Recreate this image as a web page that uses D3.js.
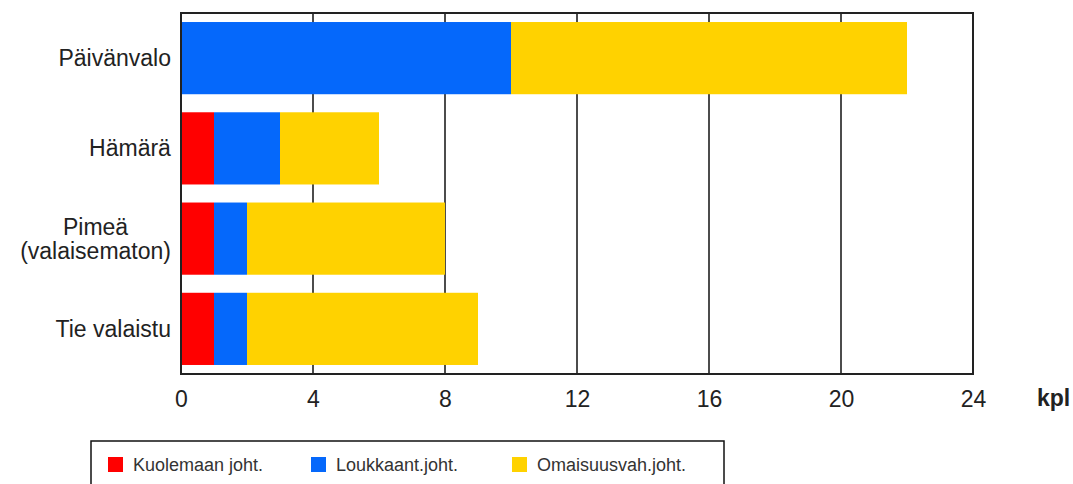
<!DOCTYPE html>
<html>
<head>
<meta charset="utf-8">
<script src="https://cdn.jsdelivr.net/npm/d3@7"></script>
<style>
  body { margin: 0; background: #fff; }
  svg { display: block; font-family: "Liberation Sans", Arial, sans-serif; }
</style>
</head>
<body>
<div id="chart"></div>
<script>
'use strict'

// data
const categories = ['Päivänvalo', 'Hämärä', 'Pimeä\n(valaisematon)', 'Tie valaistu'];
const kuolemaan = [0, 1, 1, 1];
const loukkaant = [10, 2, 1, 1];
const omaisuus = [12, 3, 6, 7];
const xTicks = [0, 4, 8, 12, 16, 20, 24];
const seriesNames = ['Kuolemaan joht.', 'Loukkaant.joht.', 'Omaisuusvah.joht.'];
const seriesColors = ['#ff0000', '#0568fb', '#ffd200'];

let width = 1073, height = 484;
let margin = {top: 13, right: 100, bottom: 110, left: 181};

let svg = d3.select('#chart')
  .append('svg')
  .attr('width', width)
  .attr('height', height);

let rows = categories.map((c, i) => ({cat: c, k: kuolemaan[i], l: loukkaant[i], o: omaisuus[i]}));
let stack = d3.stack().keys(['k', 'l', 'o']);
let layers = stack(rows);

let x = d3.scaleLinear().domain([0, 24]).range([margin.left, width - margin.right]);
let y = d3.scaleBand().domain(categories)
  .range([margin.top, height - margin.bottom])
  .paddingInner(0.2).paddingOuter(0.1);

let plotTop = margin.top, plotBottom = height - margin.bottom;

// grid lines
svg.append('g')
  .selectAll('line')
  .data(xTicks.slice(1, -1))
  .join('line')
    .attr('x1', d => x(d)).attr('x2', d => x(d))
    .attr('y1', plotTop).attr('y2', plotBottom)
    .attr('stroke', '#111')
    .attr('stroke-width', 1.5);

// bars
svg.append('g')
  .selectAll('g')
  .data(layers)
  .join('g')
    .attr('fill', (d, i) => seriesColors[i])
  .selectAll('rect')
  .data(d => d)
  .join('rect')
    .attr('x', d => x(d[0]))
    .attr('width', d => x(d[1]) - x(d[0]))
    .attr('y', d => y(d.data.cat))
    .attr('height', y.bandwidth());

// plot frame
svg.append('rect')
  .attr('x', x(0)).attr('y', plotTop)
  .attr('width', x(24) - x(0)).attr('height', plotBottom - plotTop)
  .attr('fill', 'none')
  .attr('stroke', '#222')
  .attr('stroke-width', 2);

// x axis tick labels
let xAxis = d3.axisBottom(x).tickValues(xTicks).tickSize(0).tickPadding(0);
let gx = svg.append('g')
  .attr('transform', 'translate(0,' + plotBottom + ')')
  .call(xAxis);
gx.select('.domain').remove();
gx.selectAll('text')
  .attr('y', 33).attr('dy', null)
  .attr('font-size', 23)
  .attr('font-family', '"Liberation Sans", Arial, sans-serif')
  .attr('fill', '#222');

svg.append('text')
  .attr('x', 1037).attr('y', plotBottom + 32)
  .attr('font-size', 23).attr('font-weight', 'bold')
  .attr('fill', '#222')
  .text('kpl');

// category labels: block right-aligned, lines centred inside it
let labels = svg.append('g');
categories.forEach(c => {
  let lines = c.split('\n');
  let cy = y(c) + y.bandwidth() / 2;
  let t = labels.append('text')
    .attr('font-size', 23)
    .attr('fill', '#222')
    .attr('text-anchor', 'middle');
  lines.forEach((ln, j) => {
    t.append('tspan')
      .attr('x', 0)
      .attr('y', cy + 8 + (j - (lines.length - 1) / 2) * 24)
      .text(ln);
  });
  let w = t.node().getBBox().width;
  t.selectAll('tspan').attr('x', 171 - w / 2);
});

// legend
let legend = svg.append('g');
legend.append('rect')
  .attr('x', 91).attr('y', 441)
  .attr('width', 633).attr('height', 70)
  .attr('fill', '#fff')
  .attr('stroke', '#111')
  .attr('stroke-width', 1.5);

let legendX = [108, 311, 512];
seriesNames.forEach((n, i) => {
  legend.append('rect')
    .attr('x', legendX[i]).attr('y', 457)
    .attr('width', 15).attr('height', 15)
    .attr('fill', seriesColors[i]);
  legend.append('text')
    .attr('x', legendX[i] + 25).attr('y', 471)
    .attr('font-size', 18)
    .attr('fill', '#333')
    .text(n);
});
</script>
</body>
</html>
